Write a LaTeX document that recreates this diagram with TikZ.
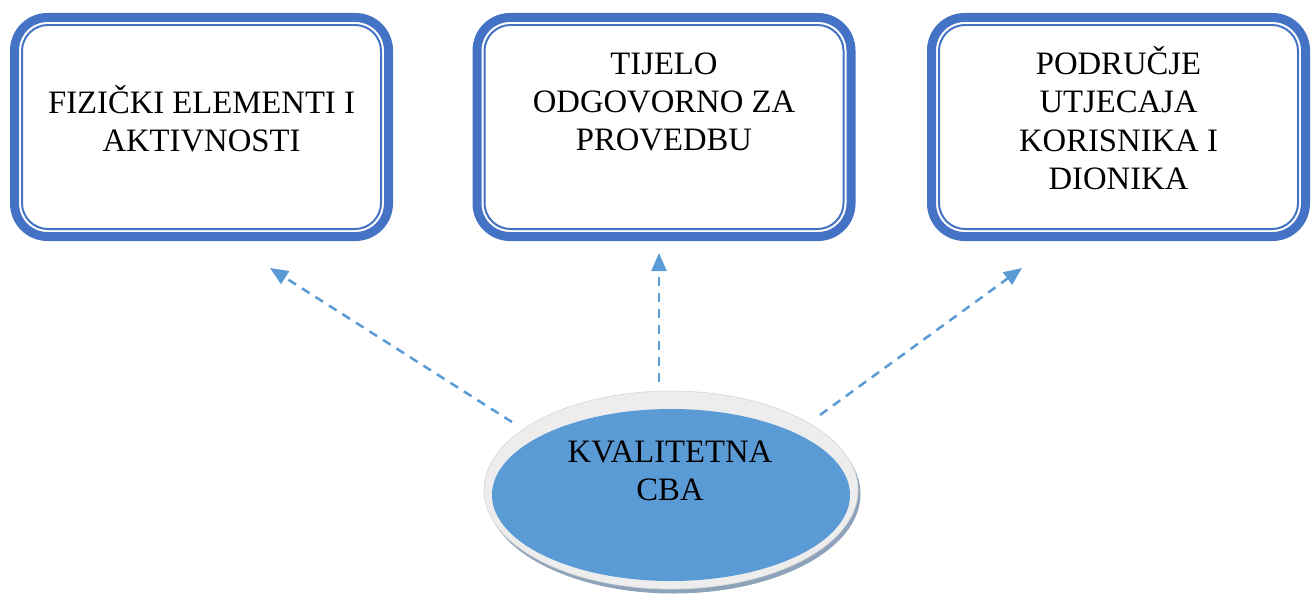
\documentclass[tikz,border=0pt]{standalone}
\usepackage{fontspec}
\setmainfont{Liberation Serif}
\usetikzlibrary{arrows.meta,shapes.geometric}
\definecolor{boxblue}{HTML}{4472C4}
\definecolor{fillblue}{HTML}{5B9BD5}
\definecolor{rimgray}{HTML}{EDEDED}
\definecolor{shadegray}{HTML}{8EA3BA}
\begin{document}
\begin{tikzpicture}[
  outerbox/.style = {draw = boxblue, line width = 0.18cm, rounded corners = 0.66cm,
    minimum width = 7.48cm, minimum height = 4.38cm, inner sep = 0pt},
  innerbox/.style = {draw = boxblue, line width = 0.04cm, rounded corners = 0.52cm,
    minimum width = 7.18cm, minimum height = 4.08cm, inner sep = 0pt},
  label/.style = {align = center, inner sep = 0pt, font = \fontsize{18.6}{21.8}\selectfont},
  link/.style = {draw = fillblue, line width = 0.05cm, dash pattern = on 0.18cm off 0.14cm,
    -{Triangle[length = 0.36cm, width = 0.3cm]}}
  ]
  \useasboundingbox (0, 0) rectangle (26.3, -11.98);
  \node[outerbox] (b1) at (4.03, -2.54) {};
  \node[innerbox] (b1i) at (4.03, -2.54) {};
  \node[outerbox] (b2) at (13.28, -2.54) {};
  \node[innerbox] (b2i) at (13.28, -2.54) {};
  \node[outerbox] (b3) at (22.37, -2.54) {};
  \node[innerbox] (b3i) at (22.37, -2.54) {};
  \node[label] (t1) at (4.03, -2.38) {FIZIČKI ELEMENTI I\\AKTIVNOSTI};
  \node[label] (t2) at (13.28, -2.04) {TIJELO\\ODGOVORNO ZA\\PROVEDBU};
  \node[label] (t3) at (22.37, -2.36) {PODRUČJE\\UTJECAJA\\KORISNIKA I\\DIONIKA};
  \node[ellipse, fill = shadegray, minimum width = 7.48cm, minimum height = 3.98cm] (shade) at (13.47, -9.88) {};
  \node[ellipse, fill = rimgray, draw = gray!30, minimum width = 7.48cm, minimum height = 3.96cm] (rim) at (13.42, -9.80) {};
  \node[ellipse, fill = fillblue, minimum width = 7.16cm, minimum height = 3.44cm] (cba) at (13.42, -9.90) {};
  \node[label] (tc) at (13.40, -9.42) {KVALITETNA\\CBA};
  \coordinate (s1) at (10.24, -8.44);
  \coordinate (e1) at (5.40, -5.36);
  \coordinate (s2) at (13.18, -7.64);
  \coordinate (e2) at (13.18, -5.06);
  \coordinate (s3) at (16.40, -8.30);
  \coordinate (e3) at (20.44, -5.36);
  \draw[link] (s1) -- (e1);
  \draw[link] (s2) -- (e2);
  \draw[link] (s3) -- (e3);
\end{tikzpicture}
\end{document}
